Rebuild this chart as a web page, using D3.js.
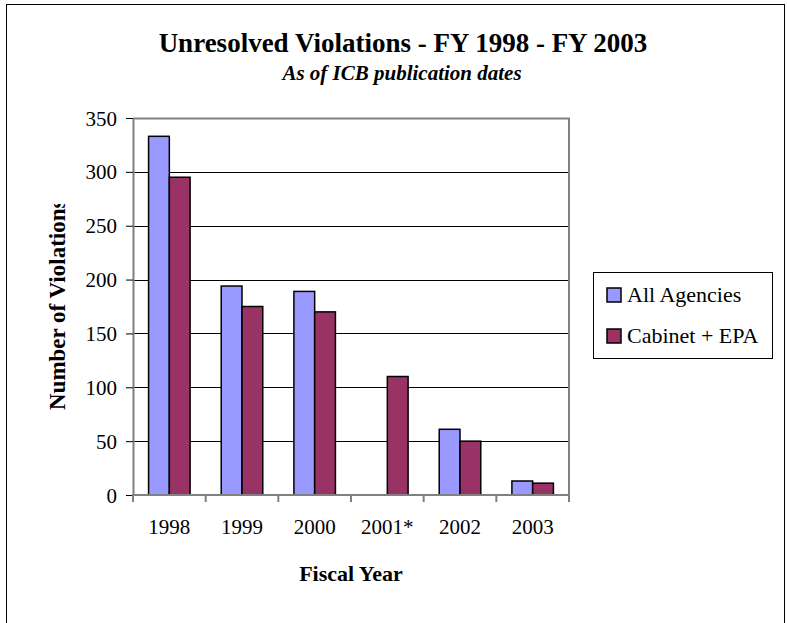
<!DOCTYPE html>
<html>
<head>
<meta charset="utf-8">
<script src="https://cdn.jsdelivr.net/npm/d3@7"></script>
<style>
	body { margin: 0; background: #fff; }
	text { font-family: "Liberation Serif", "Times New Roman", serif; fill: #000; }
</style>
</head>
<body>
<svg id="chart" width="787" height="623"></svg>
<script>
var categories = ["1998", "1999", "2000", "2001*", "2002", "2003"];
var seriesNames = ["All Agencies", "Cabinet + EPA"];
var allAgencies = [333, 194, 189, null, 61, 13];
var cabinetEpa = [295, 175, 170, 110, 50, 11];
var yTicks = [0, 50, 100, 150, 200, 250, 300, 350];
var colors = ["#9999ff", "#993366"];

var svg = d3.select("#chart");
var plot = { left: 133, right: 569, top: 118, bottom: 495 };

// outer chart frame
svg.append("rect")
	.attr("x", 6.5).attr("y", 4.5)
	.attr("width", 778).attr("height", 640)
	.attr("fill", "none").attr("stroke", "#000").attr("stroke-width", 1);

var x = d3.scaleBand()
	.domain(categories)
	.range([plot.left, plot.right]);

// gap width 150% of a bar
var xs = d3.scaleBand()
	.domain(seriesNames)
	.range([0, x.bandwidth()])
	.paddingInner(0)
	.paddingOuter(0.75);

var y = d3.scaleLinear()
	.domain([0, 350])
	.range([plot.bottom, plot.top]);

// gridlines
svg.append("g").attr("class", "grid")
	.selectAll("line")
	.data(yTicks.filter(function(d) { return d > 0; }))
	.enter().append("line")
	.attr("x1", plot.left).attr("x2", plot.right)
	.attr("y1", function(d) { return Math.round(y(d)) + 0.5; })
	.attr("y2", function(d) { return Math.round(y(d)) + 0.5; })
	.attr("stroke", "#000").attr("stroke-width", 1);

// plot area border (top + right)
svg.append("path")
	.attr("d", "M" + plot.left + "," + (plot.top + 0.5) + "H" + plot.right + "V" + plot.bottom)
	.attr("fill", "none").attr("stroke", "#808080").attr("stroke-width", 2);

var rows = categories.map(function(c, i) {
	return { cat: c, values: [allAgencies[i], cabinetEpa[i]] };
});

var groups = svg.append("g").attr("class", "bars")
	.selectAll("g")
	.data(rows)
	.enter().append("g")
	.attr("transform", function(d) { return "translate(" + x(d.cat) + ",0)"; });

groups.selectAll("rect")
	.data(function(d) {
		return d.values.map(function(v, i) { return { name: seriesNames[i], value: v, i: i }; })
			.filter(function(e) { return e.value !== null; });
	})
	.enter().append("rect")
	.attr("x", function(d) { return xs(d.name); })
	.attr("y", function(d) { return y(d.value); })
	.attr("width", xs.bandwidth())
	.attr("height", function(d) { return y(0) - y(d.value); })
	.attr("fill", function(d) { return colors[d.i]; })
	.attr("stroke", "#000").attr("stroke-width", 1.5);

// y axis
var yAxis = svg.append("g")
	.attr("transform", "translate(" + plot.left + ",0)")
	.call(d3.axisLeft(y).tickValues(yTicks).tickSize(7).tickPadding(9).tickSizeOuter(0));
yAxis.select(".domain").attr("stroke", "#808080").attr("stroke-width", 2);
yAxis.selectAll(".tick line").attr("stroke", "#000");
yAxis.selectAll(".tick text")
	.attr("font-family", "Liberation Serif").attr("font-size", 21).attr("dy", "0.34em");

// x axis: labels at centres, ticks between categories
var xAxis = svg.append("g")
	.attr("transform", "translate(0," + plot.bottom + ")")
	.call(d3.axisBottom(x).tickSize(0).tickPadding(26).tickSizeOuter(0));
xAxis.select(".domain").remove();
xAxis.selectAll(".tick text")
	.attr("font-family", "Liberation Serif").attr("font-size", 21).attr("dy", "0.6em");

var bounds = categories.map(function(c) { return x(c); }).concat([plot.right]);
svg.append("g").selectAll("line")
	.data(bounds)
	.enter().append("line")
	.attr("x1", function(d) { return d; }).attr("x2", function(d) { return d; })
	.attr("y1", plot.bottom).attr("y2", plot.bottom + 7)
	.attr("stroke", "#808080").attr("stroke-width", 2);

svg.append("line")
	.attr("x1", plot.left - 1).attr("x2", plot.right)
	.attr("y1", plot.bottom).attr("y2", plot.bottom)
	.attr("stroke", "#808080").attr("stroke-width", 2);

// titles
svg.append("text")
	.attr("x", 403).attr("y", 52)
	.attr("text-anchor", "middle")
	.attr("font-weight", "bold").attr("font-size", 27)
	.text("Unresolved Violations - FY 1998 - FY 2003");

svg.append("text")
	.attr("x", 402).attr("y", 80)
	.attr("text-anchor", "middle")
	.attr("font-weight", "bold").attr("font-style", "italic").attr("font-size", 21)
	.text("As of ICB publication dates");

svg.append("text")
	.attr("x", (plot.left + plot.right) / 2).attr("y", 581)
	.attr("text-anchor", "middle")
	.attr("font-weight", "bold").attr("font-size", 22)
	.text("Fiscal Year");

// y title is clipped by its box in the original (last letter cut)
svg.append("clipPath").attr("id", "ytitle-clip")
	.append("rect").attr("x", 0).attr("y", 204).attr("width", 120).attr("height", 300);

svg.append("g")
	.attr("clip-path", "url(#ytitle-clip)")
	.append("text")
	.attr("transform", "translate(65,410) rotate(-90)")
	.attr("text-anchor", "start")
	.attr("font-weight", "bold").attr("font-size", 23)
	.text("Number of Violations");

// legend
var legend = svg.append("g").attr("class", "legend");
legend.append("rect")
	.attr("x", 593.5).attr("y", 272.5)
	.attr("width", 179).attr("height", 86)
	.attr("fill", "#fff").attr("stroke", "#000").attr("stroke-width", 1);

var items = legend.selectAll("g.item")
	.data(seriesNames)
	.enter().append("g")
	.attr("class", "item")
	.attr("transform", function(d, i) { return "translate(607," + (288 + i * 41) + ")"; });

items.append("rect")
	.attr("width", 14).attr("height", 14)
	.attr("fill", function(d, i) { return colors[i]; })
	.attr("stroke", "#000").attr("stroke-width", 1.5);

items.append("text")
	.attr("x", 20).attr("y", 14)
	.attr("font-size", 22)
	.text(function(d) { return d; });
</script>
</body>
</html>
